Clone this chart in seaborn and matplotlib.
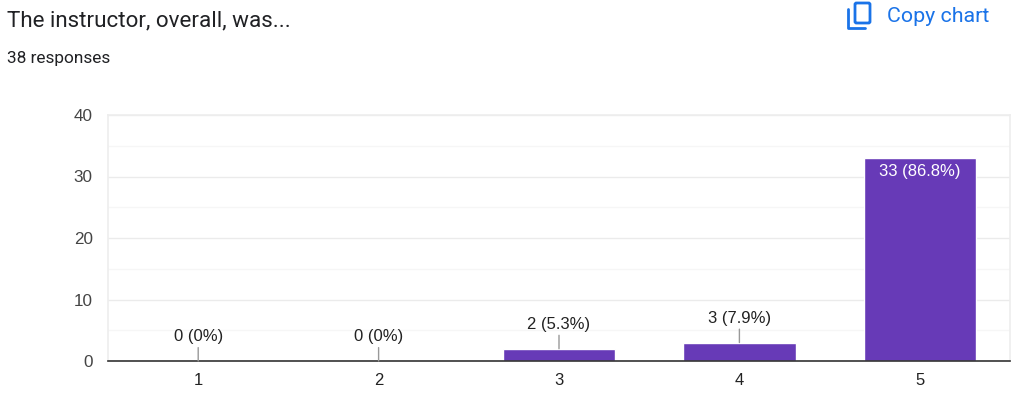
import matplotlib
matplotlib.use("Agg")
import matplotlib.pyplot as plt
from matplotlib.lines import Line2D
from matplotlib.patches import FancyBboxPatch
import pandas as pd
import seaborn as sns

categories = ["1", "2", "3", "4", "5"]
counts = [0, 0, 2, 3, 33]
labels = ["0 (0%)", "0 (0%)", "2 (5.3%)", "3 (7.9%)", "33 (86.8%)"]
y_ticks = [0, 10, 20, 30, 40]
y_minor = [5, 15, 25, 35]

W, H = 1022, 395
PURPLE = "#673ab7"
BLUE = "#1a73e8"

sns.set_theme(style="white")
plt.rcParams["font.family"] = ["Liberation Sans", "DejaVu Sans"]

df = pd.DataFrame({"rating": categories, "count": counts})

fig = plt.figure(figsize=(W / 100, H / 100), dpi=100, facecolor="white")
ax = fig.add_axes([108 / W, 1 - 361 / H, 902 / W, 246 / H])

sns.barplot(data=df, x="rating", y="count", color=PURPLE, saturation=1, width=0.622, ax=ax, zorder=3)

ax.set_xlim(-0.5, 4.5)
ax.set_ylim(0, 40)
ax.set_xlabel("")
ax.set_ylabel("")
ax.set_yticks(y_ticks)
ax.set_yticks(y_minor, minor=True)
ax.grid(True, which="major", axis="y", color="#ebebeb", lw=1, zorder=0)
ax.grid(True, which="minor", axis="y", color="#f6f6f6", lw=1, zorder=0)
ax.tick_params(axis="both", which="both", length=0)
ax.tick_params(axis="y", labelsize=12.3, labelcolor="#444444", pad=11)
ax.tick_params(axis="x", labelsize=12, labelcolor="#222222", pad=8.5)

for side in ["top", "left", "right"]:
    ax.spines[side].set_visible(True)
    ax.spines[side].set_color("#eeeeee")
ax.spines["bottom"].set_color("#333333")
ax.spines["bottom"].set_linewidth(1.2)
ax.spines["bottom"].set_zorder(5)

# labels: leader line above the small bars, white text inside the tall one
for i, (c, lab) in enumerate(zip(counts, labels)):
    if c > 20:
        ax.annotate(lab, (i, c), xytext=(0, -4), textcoords="offset points", ha="center", va="top",
                    color="white", fontsize=12, zorder=6)
    else:
        ax.annotate(lab, (i, c), xytext=(0, 12), textcoords="offset points", ha="center", va="bottom",
                    color="#222222", fontsize=12, zorder=6,
                    arrowprops=dict(arrowstyle="-", color="#999999", lw=1, shrinkA=0, shrinkB=0))

fig.text(7 / W, 1 - 21 / H, "The instructor, overall, was...", family="Roboto", fontsize=16.1,
         color="#202124", va="center", ha="left")
fig.text(7 / W, 1 - 58 / H, "38 responses", family="Roboto", fontsize=12.4,
         color="#202124", va="center", ha="left")
fig.text(887 / W, 1 - 16 / H, "Copy chart", family="Roboto", fontsize=15.4,
         color=BLUE, va="center", ha="left")

# copy icon, pixel coordinates
fig.add_artist(FancyBboxPatch((855, H - 23), 15, 20, boxstyle="round,pad=0,rounding_size=1.5",
                              transform=None, fill=False, edgecolor=BLUE, lw=2))
fig.add_artist(Line2D([848, 848, 865], [H - 9, H - 28, H - 28], transform=None, color=BLUE, lw=2))

fig.savefig("out.png", dpi=100, facecolor="white")
